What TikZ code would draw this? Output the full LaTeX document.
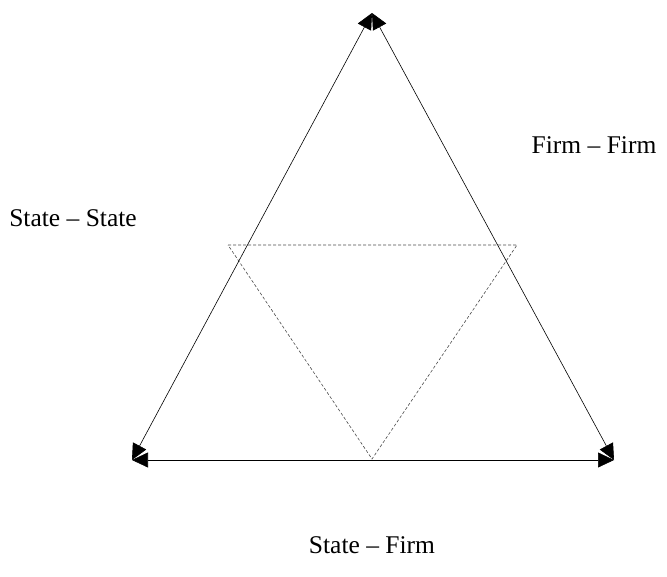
\documentclass[tikz,border=0pt]{standalone}
\usepackage{fontspec}
\setmainfont{Liberation Serif}
\usetikzlibrary{arrows.meta}
\begin{document}
\begin{tikzpicture}[x=1pt,y=-1pt,
  side/.style={line width=0.6pt,{Triangle[length=16pt,width=15pt]}-{Triangle[length=16pt,width=15pt]}},
  inner/.style={line width=0.6pt,dashed,dash pattern=on 3pt off 2pt,black!70},
  lbl/.style={font=\fontsize{25.5}{30}\selectfont,inner sep=0pt}]
\useasboundingbox (0,0) rectangle (667,576);
\coordinate (T) at (372,13);
\coordinate (L) at (132,460);
\coordinate (R) at (614,460);
\coordinate (A) at (228,245);
\coordinate (B) at (517,245);
\coordinate (C) at (372,459);
\draw[inner] (A) -- (B) -- (C) -- cycle;
\draw[side] (T) -- (L);
\draw[side] (T) -- (R);
\draw[side] (L) -- (R);
\node[lbl] (ss) at (73,218) {State -- State};
\node[lbl] (ff) at (594,145) {Firm -- Firm};
\node[lbl] (sf) at (372,545) {State -- Firm};
\end{tikzpicture}
\end{document}
